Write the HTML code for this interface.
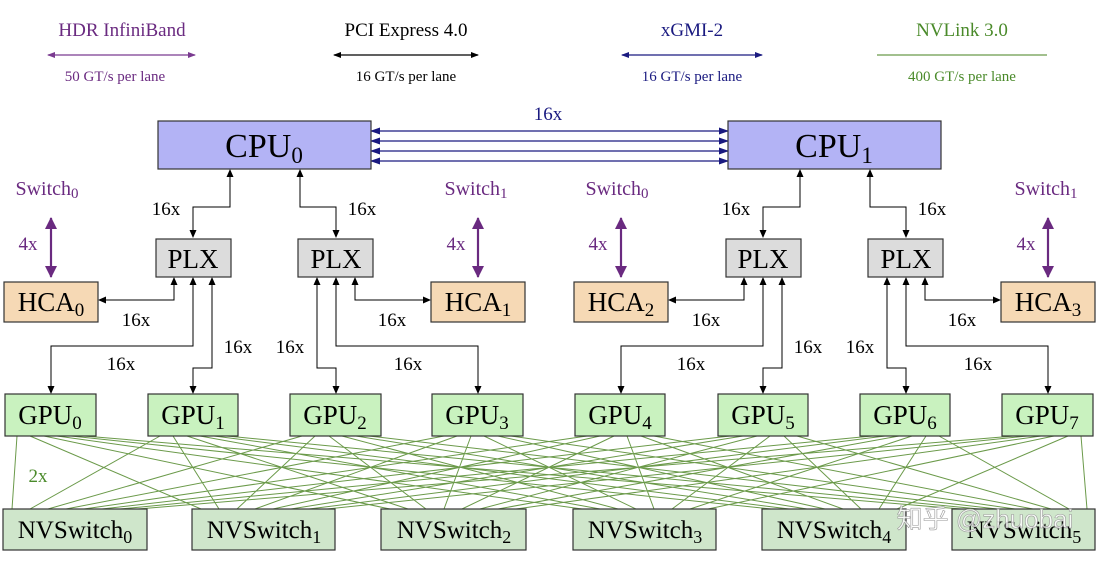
<!DOCTYPE html>
<html><head><meta charset="utf-8"><style>
html,body{margin:0;padding:0;background:#fff;}
svg{display:block;font-family:"Liberation Serif","Noto Serif CJK SC",serif;}
</style></head><body>
<svg width="1100" height="564" viewBox="0 0 1100 564" xmlns="http://www.w3.org/2000/svg">
<defs>
<marker id="ab" markerWidth="8" markerHeight="8" refX="7" refY="4" orient="auto-start-reverse" markerUnits="userSpaceOnUse"><path d="M0,0.5 L8,4 L0,7.5 z" fill="#000"/></marker>
<marker id="an" markerWidth="10" markerHeight="8" refX="9" refY="4" orient="auto-start-reverse" markerUnits="userSpaceOnUse"><path d="M0,0.5 L10,4 L0,7.5 z" fill="#1a1a80"/></marker>
<marker id="ap" markerWidth="12" markerHeight="12" refX="11" refY="6" orient="auto-start-reverse" markerUnits="userSpaceOnUse"><path d="M0,0 L12,6 L0,12 z" fill="#6a2a80"/></marker>
<marker id="ap2" markerWidth="8" markerHeight="7" refX="7" refY="3.5" orient="auto-start-reverse" markerUnits="userSpaceOnUse"><path d="M0,0.5 L8,3.5 L0,6.5 z" fill="#7a3a90"/></marker>
<marker id="ak2" markerWidth="8" markerHeight="7" refX="7" refY="3.5" orient="auto-start-reverse" markerUnits="userSpaceOnUse"><path d="M0,0.5 L8,3.5 L0,6.5 z" fill="#000"/></marker>
<marker id="an2" markerWidth="8" markerHeight="7" refX="7" refY="3.5" orient="auto-start-reverse" markerUnits="userSpaceOnUse"><path d="M0,0.5 L8,3.5 L0,6.5 z" fill="#1a1a80"/></marker>
</defs>

<!-- Legend -->
<g font-size="19" text-anchor="middle">
<text x="122" y="36" fill="#6a2a80">HDR InfiniBand</text>
<line x1="48" y1="55" x2="195" y2="55" stroke="#7a3a90" stroke-width="1.2" marker-start="url(#ap2)" marker-end="url(#ap2)"/>
<text x="115" y="81" font-size="15" fill="#6a2a80">50 GT/s per lane</text>
<text x="406" y="36" fill="#000">PCI Express 4.0</text>
<line x1="334" y1="55" x2="478" y2="55" stroke="#000" stroke-width="1.2" marker-start="url(#ak2)" marker-end="url(#ak2)"/>
<text x="406" y="81" font-size="15">16 GT/s per lane</text>
<text x="692" y="36" fill="#1a1a80">xGMI-2</text>
<line x1="622" y1="55" x2="762" y2="55" stroke="#1a1a80" stroke-width="1.2" marker-start="url(#an2)" marker-end="url(#an2)"/>
<text x="692" y="81" font-size="15" fill="#1a1a80">16 GT/s per lane</text>
<text x="962" y="36" fill="#4a8a2a">NVLink 3.0</text>
<line x1="877" y1="55" x2="1047" y2="55" stroke="#6a9a4a" stroke-width="1.2"/>
<text x="962" y="81" font-size="15" fill="#4a8a2a">400 GT/s per lane</text>
</g>

<!-- NVLink lines -->
<path stroke="#6b9a4a" stroke-width="1" fill="none" d="
M17,436L12,509 M30,436L201,509 M44,436L390,509 M57,436L582,509 M71,436L771,509 M84,436L961,509
M160,436L30,509 M173,436L219,509 M187,436L408,509 M200,436L600,509 M214,436L789,509 M227,436L979,509
M302,436L48,509 M315,436L237,509 M329,436L426,509 M342,436L618,509 M356,436L807,509 M369,436L997,509
M444,436L66,509 M457,436L255,509 M471,436L444,509 M484,436L636,509 M498,436L825,509 M511,436L1015,509
M587,436L84,509 M600,436L273,509 M614,436L462,509 M627,436L654,509 M641,436L843,509 M654,436L1033,509
M730,436L102,509 M743,436L291,509 M757,436L480,509 M770,436L672,509 M784,436L861,509 M797,436L1051,509
M872,436L120,509 M885,436L309,509 M899,436L498,509 M912,436L690,509 M926,436L879,509 M939,436L1069,509
M1014,436L138,509 M1027,436L327,509 M1041,436L516,509 M1054,436L708,509 M1068,436L897,509 M1081,436L1087,509"/>

<!-- CPU link -->
<g stroke="#1a1a80" stroke-width="1.2">
<line x1="371" y1="131" x2="728" y2="131" marker-start="url(#an)" marker-end="url(#an)"/>
<line x1="371" y1="141" x2="728" y2="141" marker-start="url(#an)" marker-end="url(#an)"/>
<line x1="371" y1="151" x2="728" y2="151" marker-start="url(#an)" marker-end="url(#an)"/>
<line x1="371" y1="161" x2="728" y2="161" marker-start="url(#an)" marker-end="url(#an)"/>
</g>
<text x="548" y="120" font-size="19" fill="#1a1a80" text-anchor="middle">16x</text>

<g id="half">
<rect x="158" y="121" width="213" height="48" fill="#b3b3f5" stroke="#333" stroke-width="1.2"/>
<g fill="none" stroke="#000" stroke-width="1">
<path d="M230,170 V207 H193 V237" marker-start="url(#ab)" marker-end="url(#ab)"/>
<path d="M300,170 V207 H336 V237" marker-start="url(#ab)" marker-end="url(#ab)"/>
<path d="M174,278 V300 H99" marker-start="url(#ab)" marker-end="url(#ab)"/>
<path d="M193,278 V346 H51 V393" marker-start="url(#ab)" marker-end="url(#ab)"/>
<path d="M212,278 V368 H193 V393" marker-start="url(#ab)" marker-end="url(#ab)"/>
<path d="M317,278 V368 H336 V393" marker-start="url(#ab)" marker-end="url(#ab)"/>
<path d="M336,278 V346 H478 V393" marker-start="url(#ab)" marker-end="url(#ab)"/>
<path d="M355,278 V300 H430" marker-start="url(#ab)" marker-end="url(#ab)"/>
</g>
<g stroke="#6a2a80" stroke-width="2.2">
<line x1="51" y1="218" x2="51" y2="277" marker-start="url(#ap)" marker-end="url(#ap)"/>
<line x1="478" y1="218" x2="478" y2="277" marker-start="url(#ap)" marker-end="url(#ap)"/>
</g>
<rect x="156" y="239" width="75" height="38" fill="#dcdcdc" stroke="#333" stroke-width="1.2"/>
<rect x="298" y="239" width="75" height="38" fill="#dcdcdc" stroke="#333" stroke-width="1.2"/>
<g font-size="19" fill="#000" text-anchor="middle">
<text x="166" y="215">16x</text><text x="362" y="215">16x</text>
<text x="136" y="326">16x</text><text x="392" y="326">16x</text>
<text x="121" y="370">16x</text><text x="238" y="353">16x</text>
<text x="290" y="353">16x</text><text x="408" y="370">16x</text>
</g>
<g font-size="19" fill="#6a2a80" text-anchor="middle">
<text x="28" y="250">4x</text><text x="456" y="250">4x</text>
</g>
<g font-size="27" text-anchor="middle">
<text x="193" y="268">PLX</text><text x="336" y="268">PLX</text>
</g>
</g>
<use href="#half" transform="translate(570,0)"/>

<g font-size="34" text-anchor="middle">
<text x="264" y="157">CPU<tspan font-size="23" dy="6">0</tspan></text>
<text x="834" y="157">CPU<tspan font-size="23" dy="6">1</tspan></text>
</g>
<g font-size="20" fill="#6a2a80" text-anchor="middle">
<text x="47" y="195">Switch<tspan font-size="15" dy="3">0</tspan></text>
<text x="476" y="195">Switch<tspan font-size="15" dy="3">1</tspan></text>
<text x="617" y="195">Switch<tspan font-size="15" dy="3">0</tspan></text>
<text x="1046" y="195">Switch<tspan font-size="15" dy="3">1</tspan></text>
</g>

<g stroke="#333" stroke-width="1.2" fill="#f6d9b5">
<rect x="4" y="282" width="94" height="40"/><rect x="431" y="282" width="94" height="40"/>
<rect x="574" y="282" width="94" height="40"/><rect x="1001" y="282" width="94" height="40"/>
</g>
<g font-size="27" text-anchor="middle">
<text x="51" y="311">HCA<tspan font-size="19" dy="5">0</tspan></text>
<text x="478" y="311">HCA<tspan font-size="19" dy="5">1</tspan></text>
<text x="621" y="311">HCA<tspan font-size="19" dy="5">2</tspan></text>
<text x="1048" y="311">HCA<tspan font-size="19" dy="5">3</tspan></text>
</g>

<g stroke="#333" stroke-width="1.2" fill="#c9f2bf">
<rect x="5" y="394" width="91" height="42"/><rect x="148" y="394" width="90" height="42"/>
<rect x="290" y="394" width="91" height="42"/><rect x="432" y="394" width="91" height="42"/>
<rect x="575" y="394" width="90" height="42"/><rect x="718" y="394" width="90" height="42"/>
<rect x="860" y="394" width="90" height="42"/><rect x="1002" y="394" width="91" height="42"/>
</g>
<g font-size="27" text-anchor="middle">
<text x="50" y="424">GPU<tspan font-size="19" dy="5">0</tspan></text>
<text x="193" y="424">GPU<tspan font-size="19" dy="5">1</tspan></text>
<text x="335" y="424">GPU<tspan font-size="19" dy="5">2</tspan></text>
<text x="477" y="424">GPU<tspan font-size="19" dy="5">3</tspan></text>
<text x="620" y="424">GPU<tspan font-size="19" dy="5">4</tspan></text>
<text x="763" y="424">GPU<tspan font-size="19" dy="5">5</tspan></text>
<text x="905" y="424">GPU<tspan font-size="19" dy="5">6</tspan></text>
<text x="1047" y="424">GPU<tspan font-size="19" dy="5">7</tspan></text>
</g>
<text x="38" y="482" font-size="19" fill="#4a8a2a" text-anchor="middle">2x</text>

<g stroke="#333" stroke-width="1.2" fill="#cfe6cb">
<rect x="3" y="509" width="144" height="41"/><rect x="192" y="509" width="143" height="41"/>
<rect x="381" y="509" width="145" height="41"/><rect x="573" y="509" width="143" height="41"/>
<rect x="762" y="509" width="144" height="41"/><rect x="952" y="509" width="143" height="41"/>
</g>
<g font-size="25" text-anchor="middle">
<text x="75" y="538">NVSwitch<tspan font-size="18" dy="5">0</tspan></text>
<text x="264" y="538">NVSwitch<tspan font-size="18" dy="5">1</tspan></text>
<text x="454" y="538">NVSwitch<tspan font-size="18" dy="5">2</tspan></text>
<text x="645" y="538">NVSwitch<tspan font-size="18" dy="5">3</tspan></text>
<text x="834" y="538">NVSwitch<tspan font-size="18" dy="5">4</tspan></text>
<text x="1024" y="538">NVSwitch<tspan font-size="18" dy="5">5</tspan></text>
</g>
<text x="985" y="528" font-size="26" fill="#fff" fill-opacity="0.8" stroke="#999" stroke-width="0.6" text-anchor="middle" font-family="'Liberation Sans','Noto Sans CJK SC',sans-serif">知乎 @zhuobai</text>
</svg>
</body></html>
